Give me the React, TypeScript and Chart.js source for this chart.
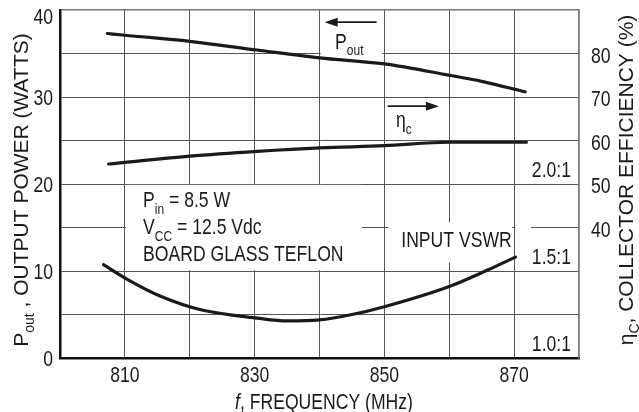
import React, { useEffect, useRef } from 'react';
import { Chart, registerables } from 'chart.js';
Chart.register(...registerables);

// ---- data ----
const freqPout = [807.3, 810, 820, 830.4, 840, 850, 860, 865, 871.7];
const pout = [37.3, 37.1, 36.4, 35.4, 34.5, 33.8, 32.5, 31.8, 30.6];
const freqEff = [807.5, 820, 830.4, 840, 850, 860, 871.9];
const effPct = [54.6, 56.4, 57.5, 58.3, 58.8, 59.6, 59.6];
const freqVswr = [806.7, 810.5, 815.6, 821.7, 830.4, 835, 840, 845, 850, 860, 866, 870.2];
const vswr = [1.536, 1.449, 1.353, 1.277, 1.229, 1.213, 1.219, 1.25, 1.295, 1.411, 1.507, 1.58];
const xTickLabels = [810, 830, 850, 870];
const poutTickLabels = [0, 10, 20, 30, 40];
const effTickLabels = [40, 50, 60, 70, 80];
const vswrLabels = ['2.0:1', '1.5:1', '1.0:1'];
const vswrLabelValues = [2.0, 1.5, 1.0];

const FAM = "'Liberation Sans', Arial, sans-serif";
const SQ = 0.8; // horizontal squeeze of the condensed lettering
const FS = 22;
const INK = '#1a1a1a';

type Seg = { t: string; sub?: boolean; it?: boolean };

function segFont(s: Seg, size: number) {
  const sz = s.sub ? Math.round(size * 0.68) : size;
  return `${s.it ? 'italic ' : ''}${sz}px ${FAM}`;
}
function richWidth(ctx: CanvasRenderingContext2D, segs: Seg[], size: number) {
  let w = 0;
  for (const s of segs) { ctx.font = segFont(s, size); w += ctx.measureText(s.t).width; }
  return w;
}
function drawRich(ctx: CanvasRenderingContext2D, segs: Seg[], x: number, y: number, size: number, sx: number, align: 'left' | 'center' | 'right' = 'left') {
  const w = richWidth(ctx, segs, size) * sx;
  const x0 = align === 'left' ? x : align === 'center' ? x - w / 2 : x - w;
  ctx.save();
  ctx.translate(x0, y);
  ctx.scale(sx, 1);
  ctx.textBaseline = 'alphabetic';
  ctx.textAlign = 'left';
  let cx = 0;
  for (const s of segs) {
    ctx.font = segFont(s, size);
    ctx.fillText(s.t, cx, s.sub ? size * 0.28 : 0);
    cx += ctx.measureText(s.t).width;
  }
  ctx.restore();
}

// annotation layout (data units of x / left y axis)
const whiteBoxes = [
  { x0: 810.2, x1: 846.5, y0: 10.1, y1: 19.9 },
  { x0: 850.6, x1: 869.7, y0: 11.0, y1: 15.6 },
  { x0: 870.2, x1: 872.6, y0: 14.7, y1: 15.3 },
  { x0: 840.2, x1: 849.7, y0: 34.6, y1: 35.4 },
];
const notes: { segs: Seg[]; x: number; y: number }[] = [
  { segs: [{ t: 'P' }, { t: 'out', sub: true }], x: 842.4, y: 35.5 },
  { segs: [{ t: 'η' }, { t: 'c', sub: true }], x: 851.8, y: 26.5 },
  { segs: [{ t: 'P' }, { t: 'in', sub: true }, { t: ' = 8.5 W' }], x: 812.8, y: 17.3 },
  { segs: [{ t: 'V' }, { t: 'CC', sub: true }, { t: ' = 12.5 Vdc' }], x: 812.8, y: 14.2 },
  { segs: [{ t: 'BOARD GLASS TEFLON' }], x: 812.8, y: 11.2 },
  { segs: [{ t: 'INPUT VSWR' }], x: 852.6, y: 12.8 },
];
const arrows = [
  { from: 848.8, to: 840.8, y: 38.6 },
  { from: 850.5, to: 858.4, y: 28.95 },
];

const annotPlugin = {
  id: 'annot',
  beforeDatasetsDraw(chart: any) {
    const { ctx, scales } = chart;
    const x = scales.x, y = scales.y;
    ctx.save();
    ctx.fillStyle = '#ffffff';
    for (const b of whiteBoxes) {
      const px0 = x.getPixelForValue(b.x0), px1 = x.getPixelForValue(b.x1);
      const py0 = y.getPixelForValue(b.y1), py1 = y.getPixelForValue(b.y0);
      ctx.fillRect(px0, py0, px1 - px0, py1 - py0);
    }
    ctx.restore();
  },
  afterDatasetsDraw(chart: any) {
    const { ctx, scales } = chart;
    const x = scales.x, y = scales.y, yv = scales.yV;
    ctx.save();
    ctx.fillStyle = INK;
    ctx.strokeStyle = INK;
    for (const n of notes) {
      drawRich(ctx, n.segs, x.getPixelForValue(n.x), y.getPixelForValue(n.y), FS, SQ, 'left');
    }
    const rx = chart.chartArea.right - 8;
    vswrLabels.forEach((lab, i) => {
      drawRich(ctx, [{ t: lab }], rx, yv.getPixelForValue(vswrLabelValues[i]) - 7, FS, SQ, 'right');
    });
    ctx.lineWidth = 1.8;
    for (const a of arrows) {
      const x0 = x.getPixelForValue(a.from), x1 = x.getPixelForValue(a.to), py = y.getPixelForValue(a.y);
      const dir = Math.sign(x1 - x0);
      ctx.beginPath();
      ctx.moveTo(x0, py);
      ctx.lineTo(x1 - dir * 8, py);
      ctx.stroke();
      ctx.beginPath();
      ctx.moveTo(x1, py);
      ctx.lineTo(x1 - dir * 13, py - 4.5);
      ctx.lineTo(x1 - dir * 13, py + 4.5);
      ctx.closePath();
      ctx.fill();
    }
    ctx.restore();
  },
  afterDraw(chart: any) {
    const { ctx, scales, chartArea } = chart;
    const x = scales.x, y = scales.y, ye = scales.yEff;
    ctx.save();
    ctx.fillStyle = INK;
    for (const v of xTickLabels) {
      drawRich(ctx, [{ t: String(v) }], x.getPixelForValue(v), chartArea.bottom + 24, FS, SQ, 'center');
    }
    for (const v of poutTickLabels) {
      const py = y.getPixelForValue(v);
      const base = v === 40 ? py + 14 : py + 8;
      drawRich(ctx, [{ t: String(v) }], chartArea.left - 7, base, FS, SQ, 'right');
    }
    for (const v of effTickLabels) {
      drawRich(ctx, [{ t: String(v) }], chartArea.right + 12, ye.getPixelForValue(v) + 9, FS, SQ, 'left');
    }
    drawRich(ctx, [{ t: 'f', it: true }, { t: ', FREQUENCY (MHz)' }], 324, 409, FS, SQ, 'center');
    ctx.save();
    ctx.translate(28, 190);
    ctx.rotate(-Math.PI / 2);
    drawRich(ctx, [{ t: 'P' }, { t: 'out', sub: true }, { t: ' , OUTPUT POWER (WATTS)' }], 0, 0, 21, 1, 'center');
    ctx.restore();
    ctx.save();
    ctx.translate(633, 180);
    ctx.rotate(-Math.PI / 2);
    drawRich(ctx, [{ t: 'η' }, { t: 'C', sub: true }, { t: ', COLLECTOR EFFICIENCY (%)' }], 0, 0, 21, 1, 'center');
    ctx.restore();
    ctx.restore();
  },
};

const toXY = (xs: number[], ys: number[]) => xs.map((v, i) => ({ x: v, y: ys[i] }));

export default function App() {
  const ref = useRef<HTMLCanvasElement>(null);
  useEffect(() => {
    if (!ref.current) return;
    const lineStyle = {
      borderColor: INK,
      borderWidth: 3.2,
      pointRadius: 0,
      fill: false,
      cubicInterpolationMode: 'monotone' as const,
      borderCapStyle: 'round' as const,
    };
    const hiddenTicks = { color: 'rgba(0,0,0,0)', font: { family: FAM, size: FS } };
    const chart = new Chart(ref.current, {
      type: 'line',
      data: {
        datasets: [
          { ...lineStyle, label: 'Pout', data: toXY(freqPout, pout), yAxisID: 'y' },
          { ...lineStyle, label: 'Efficiency', data: toXY(freqEff, effPct), yAxisID: 'yEff' },
          { ...lineStyle, label: 'Input VSWR', data: toXY(freqVswr, vswr), yAxisID: 'yV' },
        ],
      },
      options: {
        responsive: false,
        animation: false,
        layout: { padding: { top: 10, left: 0, right: 0, bottom: 0 } },
        plugins: { legend: { display: false }, tooltip: { enabled: false } },
        scales: {
          x: {
            type: 'linear',
            min: 800,
            max: 880,
            ticks: { ...hiddenTicks, stepSize: 10, autoSkip: false, maxRotation: 0, padding: 5, callback: (v: any) => String(v) },
            grid: {
              drawTicks: false,
              color: (c: any) => (c.tick && c.tick.value === 880 ? '#777' : '#555'),
              lineWidth: (c: any) => (c.tick && c.tick.value === 880 ? 1.5 : 1),
            },
            border: { color: '#111', width: 2.5 },
            afterFit: (s: any) => { s.height = 54; s.paddingLeft = 0; s.paddingRight = 0; },
          },
          y: {
            position: 'left',
            min: 0,
            max: 40,
            ticks: { ...hiddenTicks, stepSize: 5, autoSkip: false, padding: 7 },
            grid: {
              drawTicks: false,
              color: (c: any) => (c.tick && c.tick.value === 40 ? '#777' : '#555'),
              lineWidth: (c: any) => (c.tick && c.tick.value === 40 ? 1.5 : 1),
            },
            border: { color: '#111', width: 2.5 },
            afterFit: (s: any) => { s.width = 60; s.paddingTop = 0; s.paddingBottom = 0; },
          },
          yEff: {
            position: 'right',
            min: 10,
            max: 90,
            ticks: { ...hiddenTicks, stepSize: 10, autoSkip: false, padding: 12 },
            grid: { display: false, drawTicks: false },
            border: { color: '#777', width: 1.5 },
            afterFit: (s: any) => { s.width = 60; s.paddingTop = 0; s.paddingBottom = 0; },
          },
          yV: { display: false, min: 1.0, max: 3.0 },
        },
      },
      plugins: [annotPlugin],
    } as any);
    return () => chart.destroy();
  }, []);
  return (
    <div style={{ position: 'absolute', left: 0, top: 0, width: 639, height: 412, background: '#fff' }}>
      <canvas ref={ref} width={639} height={412} />
    </div>
  );
}
